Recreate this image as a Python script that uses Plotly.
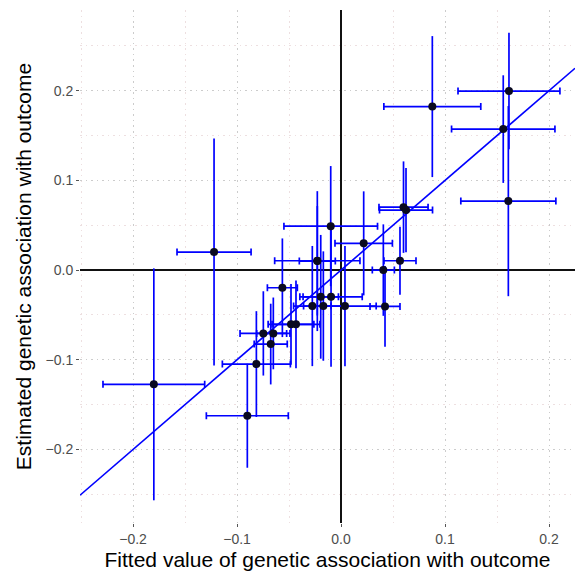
import plotly.graph_objects as go

# Data
fitted_x = [-0.180, -0.1221, -0.0901, -0.0814, -0.0747, -0.0676, -0.0651, -0.0481, -0.0433,
            -0.0564, -0.0276, -0.0195, -0.0170, 0.0038, -0.0228, -0.0228, -0.0096, -0.0099,
            0.0218, 0.0407, 0.0423, 0.0567, 0.0601, 0.0625, 0.0878, 0.1615, 0.1560, 0.1609]
estimated_y = [-0.1274, 0.0201, -0.1624, -0.1048, -0.0706, -0.0825, -0.0706, -0.0605, -0.0605,
               -0.0197, -0.0401, -0.0298, -0.0401, -0.0401, 0.0104, 0.0100, -0.0298, 0.0490,
               0.0298, 0.0000, -0.0405, 0.0104, 0.0702, 0.0669, 0.1823, 0.1996, 0.1572, 0.0769]
err_x = [0.0489, 0.0356, 0.0394, 0.0327, 0.0224, 0.0159, 0.0160, 0.0220, 0.0230,
         0.0144, 0.0180, 0.0170, 0.0190, 0.0300, 0.0410, 0.0173, 0.0300, 0.0450,
         0.0276, 0.0106, 0.0144, 0.0154, 0.0236, 0.0255, 0.0466, 0.0490, 0.0497, 0.0457]
err_y = [0.1293, 0.1265, 0.0580, 0.0590, 0.0470, 0.0450, 0.0400, 0.0450, 0.0490,
         0.0550, 0.0670, 0.0690, 0.0610, 0.0670, 0.0610, 0.0780, 0.0780, 0.0670,
         0.0580, 0.0510, 0.0450, 0.0380, 0.0510, 0.0470, 0.0786, 0.0650, 0.0600, 0.1060]
fit_slope = 1.0
x_range = [-0.251, 0.225]
y_range = [-0.282, 0.290]
tick_vals = [-0.2, -0.1, 0.0, 0.1, 0.2]
tick_text = ["\u22120.2", "\u22120.1", "0.0", "0.1", "0.2"]

blue = "#0000ff"
font_family = "Liberation Sans, Arial, sans-serif"
fig = go.Figure()

fig.add_trace(go.Scatter(
    x=x_range, y=[fit_slope * v for v in x_range], mode="lines",
    line=dict(color=blue, width=1.6), hoverinfo="skip", showlegend=False))

fig.add_trace(go.Scatter(
    x=fitted_x, y=estimated_y, mode="markers",
    marker=dict(color="#0a0a20", size=8),
    error_x=dict(type="data", array=err_x, visible=True, color=blue, thickness=1.7, width=3.5),
    error_y=dict(type="data", array=err_y, visible=True, color=blue, thickness=1.7, width=0),
    showlegend=False))

axis_common = dict(
    showgrid=True, gridcolor="#cccccc", griddash="1.5px,4px", gridwidth=1.2,
    minor=dict(showgrid=True, gridcolor="#eddfe0", griddash="1.5px,4px", gridwidth=1.2,
               dtick=0.1, tick0=-0.25),
    zeroline=True, zerolinecolor="#111111", zerolinewidth=1.6,
    ticks="outside", ticklen=3, tickcolor="#555555", tickwidth=1,
    tickvals=tick_vals, ticktext=tick_text,
    tickfont=dict(family=font_family, size=14, color="#4d4d4d"),
    showline=False,
)

fig.update_xaxes(range=x_range, **axis_common,
                 title=dict(text="Fitted value of genetic association with outcome",
                            font=dict(family=font_family, size=21, color="#000000"),
                            standoff=6))
fig.update_yaxes(range=y_range, **axis_common,
                 title=dict(text="Estimated genetic association with outcome",
                            font=dict(family=font_family, size=21, color="#000000"),
                            standoff=8))

fig.update_layout(
    width=575, height=576,
    margin=dict(l=80, r=0, t=10, b=53),
    plot_bgcolor="white", paper_bgcolor="white",
)

fig.write_html("out.html")
